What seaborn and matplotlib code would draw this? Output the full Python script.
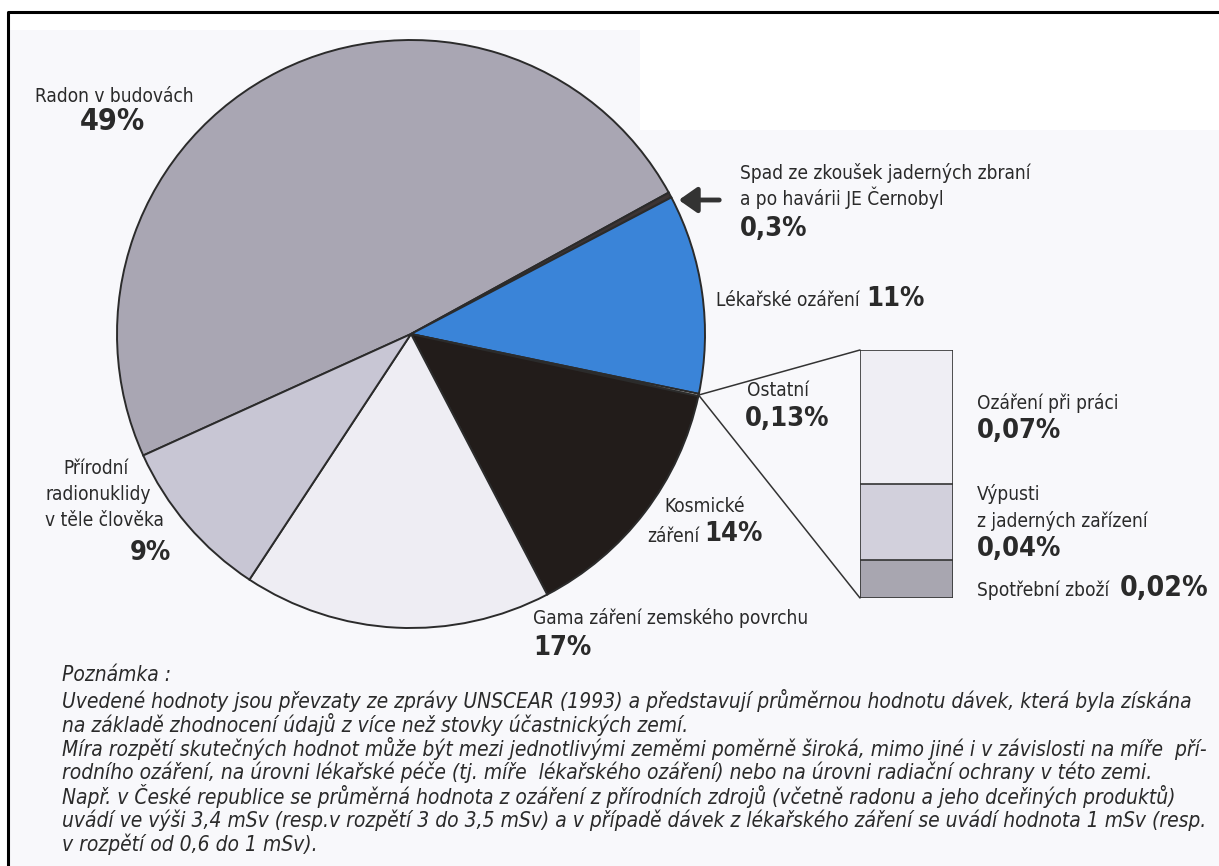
import numpy as np
import pandas as pd
import matplotlib
matplotlib.use("Agg")
import matplotlib.pyplot as plt
import seaborn as sns
from matplotlib import font_manager as fm
from matplotlib.patches import Polygon

# ---------------- data ----------------
pie_labels = ["Radon v budovách",
              "Spad ze zkoušek jaderných zbraní\na po havárii JE Černobyl",
              "Lékařské ozáření",
              "Ostatní",
              "Kosmické\nzáření",
              "Gama záření zemského povrchu",
              "Přírodní\nradionuklidy\nv těle člověka"]
pie_values = [49, 0.3, 11, 0.13, 14, 17, 9]
pie_pct = ["49%", "0,3%", "11%", "0,13%", "14%", "17%", "9%"]
pie_colors = ["#a9a6b3", "#3c3434", "#3a84d8", "#ffffff", "#221c1a", "#eeedf3", "#c8c6d4"]

other_labels = ["Ozáření při práci", "Výpusti\nz jaderných zařízení", "Spotřební zboží"]
other_values = [0.07, 0.04, 0.02]
other_pct = ["0,07%", "0,04%", "0,02%"]
other_colors = ["#efeef4", "#d2d0dc", "#a8a6b0"]

note_lines = [
    "Poznámka :",
    "Uvedené hodnoty jsou převzaty ze zprávy UNSCEAR (1993) a představují průměrnou hodnotu dávek, která byla získána",
    "na základě zhodnocení údajů z více než stovky účastnických zemí.",
    "Míra rozpětí skutečných hodnot může být mezi jednotlivými zeměmi poměrně široká, mimo jiné i v závislosti na míře  pří-",
    "rodního ozáření, na úrovni lékařské péče (tj. míře  lékařského ozáření) nebo na úrovni radiační ochrany v této zemi.",
    "Např. v České republice se průměrná hodnota z ozáření z přírodních zdrojů (včetně radonu a jeho dceřiných produktů)",
    "uvádí ve výši 3,4 mSv (resp.v rozpětí 3 do 3,5 mSv) a v případě dávek z lékařského záření se uvádí hodnota 1 mSv (resp.",
    "v rozpětí od 0,6 do 1 mSv).",
]

# ---------------- style ----------------
sns.set_theme(style="white")
names = {f.name for f in fm.fontManager.ttflist}
stretch = "normal"
if "Liberation Sans Narrow" in names:
    fam = "Liberation Sans Narrow"
else:
    fam = "DejaVu Sans"
    cond = [f for f in fm.fontManager.ttflist if f.name == "DejaVu Sans" and "condensed" in str(f.stretch)]
    if cond:
        stretch = "condensed"
plt.rcParams["font.family"] = [fam, "DejaVu Sans"]
TXT = "#2a2a2a"

W, H = 1219, 866
fig = plt.figure(figsize=(W / 100, H / 100), dpi=100)
fig.patch.set_facecolor("white")
ax = fig.add_axes([0, 0, 1, 1])
ax.set_xlim(0, W)
ax.set_ylim(0, H)
ax.axis("off")


def py(y):
    return H - y


renderer = fig.canvas.get_renderer()


def txt(x, y, s, size=13, weight="normal", style="normal", ha="left", **kw):
    return ax.text(x, py(y), s, fontsize=size, fontweight=weight, fontstyle=style, ha=ha,
                   va="center", color=TXT, fontstretch=stretch, **kw)


def fit_size(s, width, weight="normal", style="normal", base=13):
    t = txt(0, 0, s, base, weight=weight, style=style)
    bb = t.get_window_extent(renderer)
    t.remove()
    return base * width / bb.width


# background + frame
ax.add_patch(Polygon([(8, py(30)), (640, py(30)), (640, py(130)), (W, py(130)), (W, 0), (8, 0)],
                     closed=True, facecolor="#f8f8fb", edgecolor="none", zorder=0))
ax.plot([8, 8, W], [0, py(12), py(12)], color="black", lw=2.2, zorder=5)

# ---------------- pie ----------------
cx, cy, R = 411, py(334), 294
wedges, _ = ax.pie(pie_values, colors=pie_colors, startangle=204.4, counterclock=False,
                   center=(cx, cy), radius=R, frame=True,
                   wedgeprops=dict(edgecolor="#2b2b2b", linewidth=1.4))
ax.set_xlim(0, W)
ax.set_ylim(0, H)
ax.set_aspect("equal")
ax.axis("off")

# connector lines from "Ostatní" wedge to the box
w = wedges[3]
mid = np.deg2rad((w.theta1 + w.theta2) / 2)
px_, py_ = cx + R * np.cos(mid), cy + R * np.sin(mid)
box_l, box_t, box_b, box_r = 860, 350, 598, 953
ax.plot([px_, box_l], [py_, py(box_t)], color="#333333", lw=1.1)
ax.plot([px_, box_l], [py_, py(box_b)], color="#333333", lw=1.1)

# arrow to the fallout slice
ax.annotate("", xy=(676, py(200)), xytext=(722, py(200)),
            arrowprops=dict(arrowstyle="-|>,head_length=0.5,head_width=0.35", lw=3.5,
                            color="#333333", mutation_scale=22))

# ---------------- stacked bar (Ostatní breakdown) ----------------
bax = fig.add_axes([box_l / W, (H - box_b) / H, (box_r - box_l) / W, (box_b - box_t) / H])
df = pd.DataFrame({"kat": other_labels, "val": other_values, "col": other_colors})
df["cum"] = df["val"][::-1].cumsum()[::-1]
for _, row in df.iterrows():
    sns.barplot(x=["Ostatní"], y=[row["cum"]], color=row["col"], saturation=1, width=1,
                edgecolor="#333333", linewidth=1.2, ax=bax)
bax.set_xlim(-0.5, 0.5)
bax.set_ylim(0, df["cum"].iloc[0])
bax.axis("off")

# ---------------- labels ----------------
lab = 13.7
big = fit_size("0,13%", 84, weight="bold")

txt(35, 97, pie_labels[0], lab)
txt(80, 121, pie_pct[0], big * 1.12, weight="bold")

txt(740, 173, "Spad ze zkoušek jaderných zbraní", lab)
txt(740, 198, "a po havárii JE Černobyl", lab)
txt(740, 229, pie_pct[1], big, weight="bold")

txt(716, 301, pie_labels[2], lab)
txt(866, 299, pie_pct[2], big, weight="bold")

txt(747, 391, pie_labels[3], lab)
txt(745, 419, pie_pct[3], big, weight="bold")

txt(745, 506, "Kosmické", lab, ha="right")
txt(700, 536, "záření", lab, ha="right")
txt(704, 534, pie_pct[4], big, weight="bold")

txt(96, 468, "Přírodní", lab, ha="center")
txt(98, 494, "radionuklidy", lab, ha="center")
txt(104, 520, "v těle člověka", lab, ha="center")
txt(130, 553, pie_pct[6], big, weight="bold")

txt(533, 618, pie_labels[5], lab)
txt(533, 648, pie_pct[5], big, weight="bold")

txt(977, 403, other_labels[0], lab)
txt(977, 431, other_pct[0], big, weight="bold")
txt(977, 494, "Výpusti", lab)
txt(977, 521, "z jaderných zařízení", lab)
txt(977, 549, other_pct[1], big, weight="bold")
txt(977, 590, other_labels[2], lab)
txt(1120, 588, other_pct[2], big * 1.05, weight="bold")

# ---------------- note ----------------
ys = [675, 700, 724, 748, 772, 796, 820, 844]
fs = min(fit_size(note_lines[i], 1143, style="italic", base=12) for i in (1, 3, 5, 6))
for s, y in zip(note_lines, ys):
    txt(62, y, s, fs, style="italic")

fig.savefig("out.png", dpi=100, facecolor="white")
